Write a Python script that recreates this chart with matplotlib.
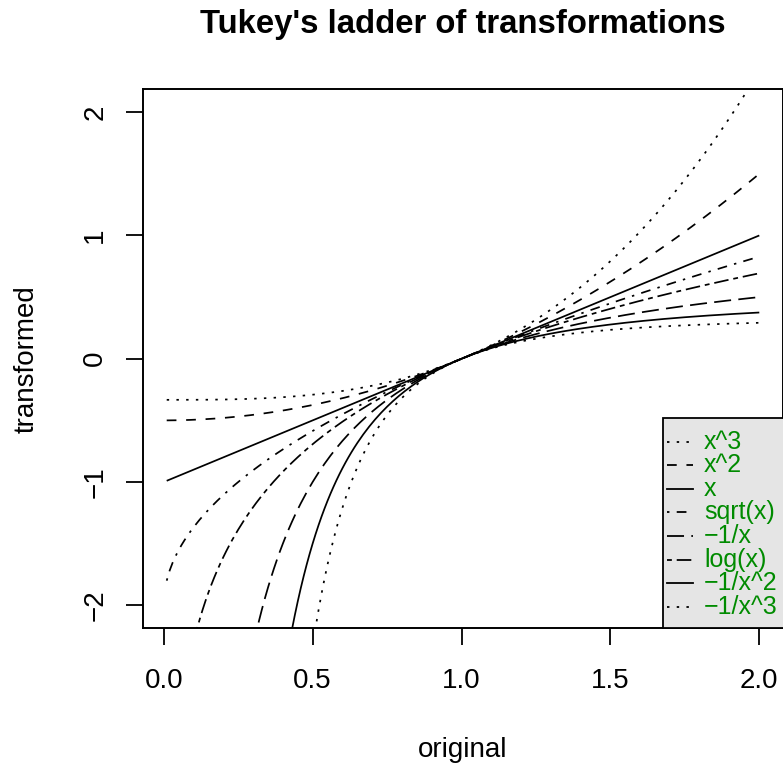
#!/usr/bin/env python3
import matplotlib
matplotlib.use('Agg')
import matplotlib.pyplot as plt
from matplotlib.patches import Rectangle
from matplotlib.lines import Line2D
import numpy as np

# Box-Cox ladder: power for each rung (0 means log)
labels = ['x^3', 'x^2', 'x', 'sqrt(x)', '\u22121/x', 'log(x)', '\u22121/x^2', '\u22121/x^3']
powers = [3, 2, 1, 0.5, -1, 0, -2, -3]
x = np.linspace(0.01, 2.0, 200)
xticks = [0.0, 0.5, 1.0, 1.5, 2.0]
yticks = [-2, -1, 0, 1, 2]

plt.rcParams['font.family'] = ['Liberation Sans', 'DejaVu Sans']
plt.rcParams['lines.scale_dashes'] = False

u = 1.75  # R lty unit in points
ltys = {
    1: '-',
    2: (0, (4*u, 4*u)),
    3: (0, (1*u, 3*u)),
    4: (0, (1*u, 3*u, 4*u, 3*u)),
    5: (0, (7*u, 3*u)),
    6: (0, (2*u, 2*u, 6*u, 2*u)),
}
lty_order = [3, 2, 1, 4, 5, 6, 1, 3]

def ladder(v, p):
    if p == 0:
        return np.log(v)
    return (v**p - 1) / p

W, H = 783, 765
fig = plt.figure(figsize=(W/100, H/100), dpi=100)
left, top, right, bottom = 143, 89.5, 783, 628
ax = fig.add_axes([left/W, 1 - bottom/H, (right-left)/W, (bottom-top)/H])

for p, lt in zip(powers, lty_order):
    ax.plot(x, ladder(x, p), color='black', lw=1.25, linestyle=ltys[lt],
            dash_capstyle='butt', solid_capstyle='butt')

ax.set_xlim(-0.0696, 2.0796)
ax.set_ylim(-2.184, 2.184)
ax.set_xticks(xticks)
ax.set_xticklabels(['%.1f' % t for t in xticks])
ax.set_yticks(yticks)
ax.set_yticklabels([str(t).replace('-', '\u2212') for t in yticks])
ax.tick_params(direction='out', length=12, width=1.3, labelsize=20, colors='black')
ax.tick_params(axis='x', pad=17)
ax.tick_params(axis='y', pad=13)
plt.setp(ax.get_yticklabels(), rotation=90, va='center')
for s in ax.spines.values():
    s.set_linewidth(1.4)

# title and axis labels
fig.text(463/W, 1 - 33/H, "Tukey's ladder of transformations", ha='center', va='baseline',
         fontsize=23.7, fontweight='bold')
fig.text(463/W, 1 - 757/H, 'original', ha='center', va='baseline', fontsize=20)
fig.text(34/W, 1 - 358.75/H, 'transformed', ha='center', va='baseline', fontsize=20,
         rotation=90, rotation_mode='anchor')

# legend box (drawn by hand to mimic R legend, clipped at the right)
def fx(px):
    return (px - left) / (right - left)

def fy(py):
    return (bottom - py) / (bottom - top)

ax.add_patch(Rectangle((fx(663), 0), fx(820) - fx(663), fy(418), transform=ax.transAxes,
                       facecolor='#E5E5E5', edgecolor='black', lw=1.3, clip_on=False, zorder=5))
row0, step = 441.7, 23.57
for i, (lab, lt) in enumerate(zip(labels, lty_order)):
    yy = fy(row0 + i*step)
    ax.add_line(Line2D([fx(667), fx(693)], [yy, yy], transform=ax.transAxes, color='black',
                       lw=1.3, linestyle=ltys[lt], dash_capstyle='butt', clip_on=False, zorder=6))
    ax.text(fx(704), yy, lab, transform=ax.transAxes, color='#008B00', fontsize=18,
            ha='left', va='center', zorder=6, clip_on=False)

fig.savefig('out.png', dpi=100)
